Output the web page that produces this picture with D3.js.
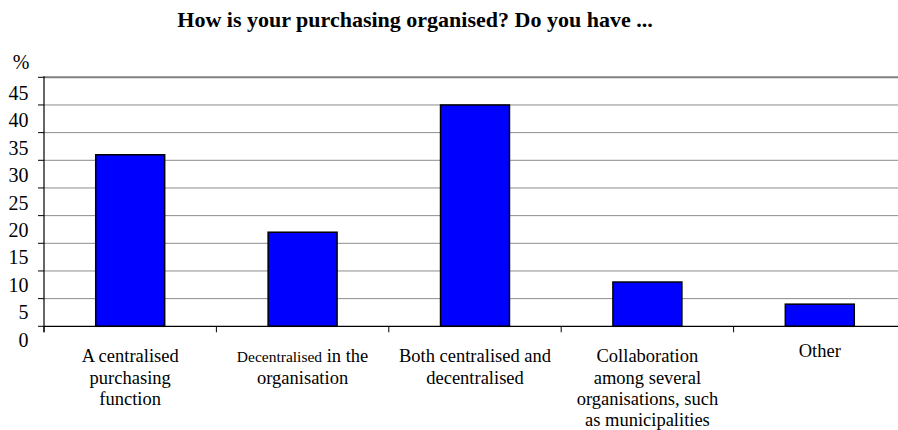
<!DOCTYPE html>
<html>
<head>
<meta charset="utf-8">
<script src="https://cdn.jsdelivr.net/npm/d3@7"></script>
<style>
  html, body { margin: 0; padding: 0; background: #fff; }
  svg { display: block; }
  text { font-family: "Liberation Serif", "Times New Roman", serif; fill: #000; }
</style>
</head>
<body>
<svg id="chart" width="898" height="430"></svg>
<script>
const title = "How is your purchasing organised? Do you have ...";
const categories = [
  "A centralised purchasing function",
  "Decentralised in the organisation",
  "Both centralised and decentralised",
  "Collaboration among several organisations, such as municipalities",
  "Other"
];
const categoryLines = [
  ["A centralised", "purchasing", "function"],
  ["Decentralised in the", "organisation"],
  ["Both centralised and", "decentralised"],
  ["Collaboration", "among several", "organisations, such", "as municipalities"],
  ["Other"]
];
const values = [31, 17, 40, 8, 4];
const yTicks = [0, 5, 10, 15, 20, 25, 30, 35, 40, 45];
const yUnit = "%";

const svg = d3.select("#chart");
const W = 898, H = 430;
const plot = { left: 44, right: 906, top: 77.3, bottom: 326.3 };

const x = d3.scaleBand()
  .domain(categories)
  .range([plot.left, plot.right])
  .paddingInner(0.6)
  .paddingOuter(0.3);

const y = d3.scaleLinear().domain([0, 45]).range([plot.bottom, plot.top]);
// tick labels in the original sit slightly below their gridlines
const yLab = d3.scaleLinear().domain([0, 45]).range([339.7, 93.3]);

// title
svg.append("text")
  .attr("x", 415).attr("y", 26.7)
  .attr("text-anchor", "middle")
  .attr("font-size", 22).attr("font-weight", "bold")
  .text(title);

// gridlines
svg.append("g").selectAll("line")
  .data(yTicks.filter(v => v > 0))
  .join("line")
  .attr("x1", plot.left).attr("x2", W)
  .attr("y1", d => y(d)).attr("y2", d => y(d))
  .attr("stroke", d => d === 45 ? "#808080" : "#8c8c8c")
  .attr("stroke-width", d => d === 45 ? 2 : 1);

// y tick marks
svg.append("g").selectAll("line")
  .data(yTicks)
  .join("line")
  .attr("x1", plot.left - 6).attr("x2", plot.left)
  .attr("y1", d => y(d)).attr("y2", d => y(d))
  .attr("stroke", "#000").attr("stroke-width", 1);

// y labels
svg.append("g").selectAll("text")
  .data(yTicks)
  .join("text")
  .attr("x", 28.5)
  .attr("y", d => yLab(d))
  .attr("dy", "0.34em")
  .attr("text-anchor", "end")
  .attr("font-size", 20)
  .text(d => d);

svg.append("text")
  .attr("x", 21).attr("y", 62.5).attr("dy", "0.34em")
  .attr("text-anchor", "middle").attr("font-size", 20)
  .text(yUnit);

// bars
svg.append("g").selectAll("rect")
  .data(values)
  .join("rect")
  .attr("x", (d, i) => x(categories[i]))
  .attr("width", x.bandwidth())
  .attr("y", d => y(d))
  .attr("height", d => y(0) - y(d))
  .attr("fill", "#0000ff")
  .attr("stroke", "#000")
  .attr("stroke-width", 1.5);

// y axis line
svg.append("line")
  .attr("x1", plot.left).attr("x2", plot.left)
  .attr("y1", plot.top - 1).attr("y2", plot.bottom + 6)
  .attr("stroke", "#000").attr("stroke-width", 1.2);

// baseline
svg.append("line")
  .attr("x1", plot.left).attr("x2", W)
  .attr("y1", y(0)).attr("y2", y(0))
  .attr("stroke", "#000").attr("stroke-width", 1.2);

// category separator ticks
const step = x.step();
const bounds = d3.range(categories.length + 1).map(i => x(categories[0]) - step * x.paddingOuter() + i * step);
svg.append("g").selectAll("line")
  .data(bounds)
  .join("line")
  .attr("x1", d => d).attr("x2", d => d)
  .attr("y1", y(0)).attr("y2", y(0) + 6)
  .attr("stroke", "#000").attr("stroke-width", 1);

// category labels
const lab = svg.append("g");
categoryLines.forEach((lines, i) => {
  const cx = x(categories[i]) + x.bandwidth() / 2;
  const base = lines.length === 1 ? 356.7 : 362.3;
  const t = lab.append("text")
    .attr("text-anchor", "middle")
    .attr("font-size", 18.5);
  lines.forEach((ln, j) => {
    const ty = base + j * 21.3;
    if (ln.startsWith("Decentralised")) {
      const tsp = t.append("tspan").attr("x", cx).attr("y", ty);
      tsp.append("tspan").attr("font-size", 15.5).text("Decentralised");
      tsp.append("tspan").text(ln.slice("Decentralised".length));
    } else {
      t.append("tspan").attr("x", cx).attr("y", ty).text(ln);
    }
  });
});
</script>
</body>
</html>
